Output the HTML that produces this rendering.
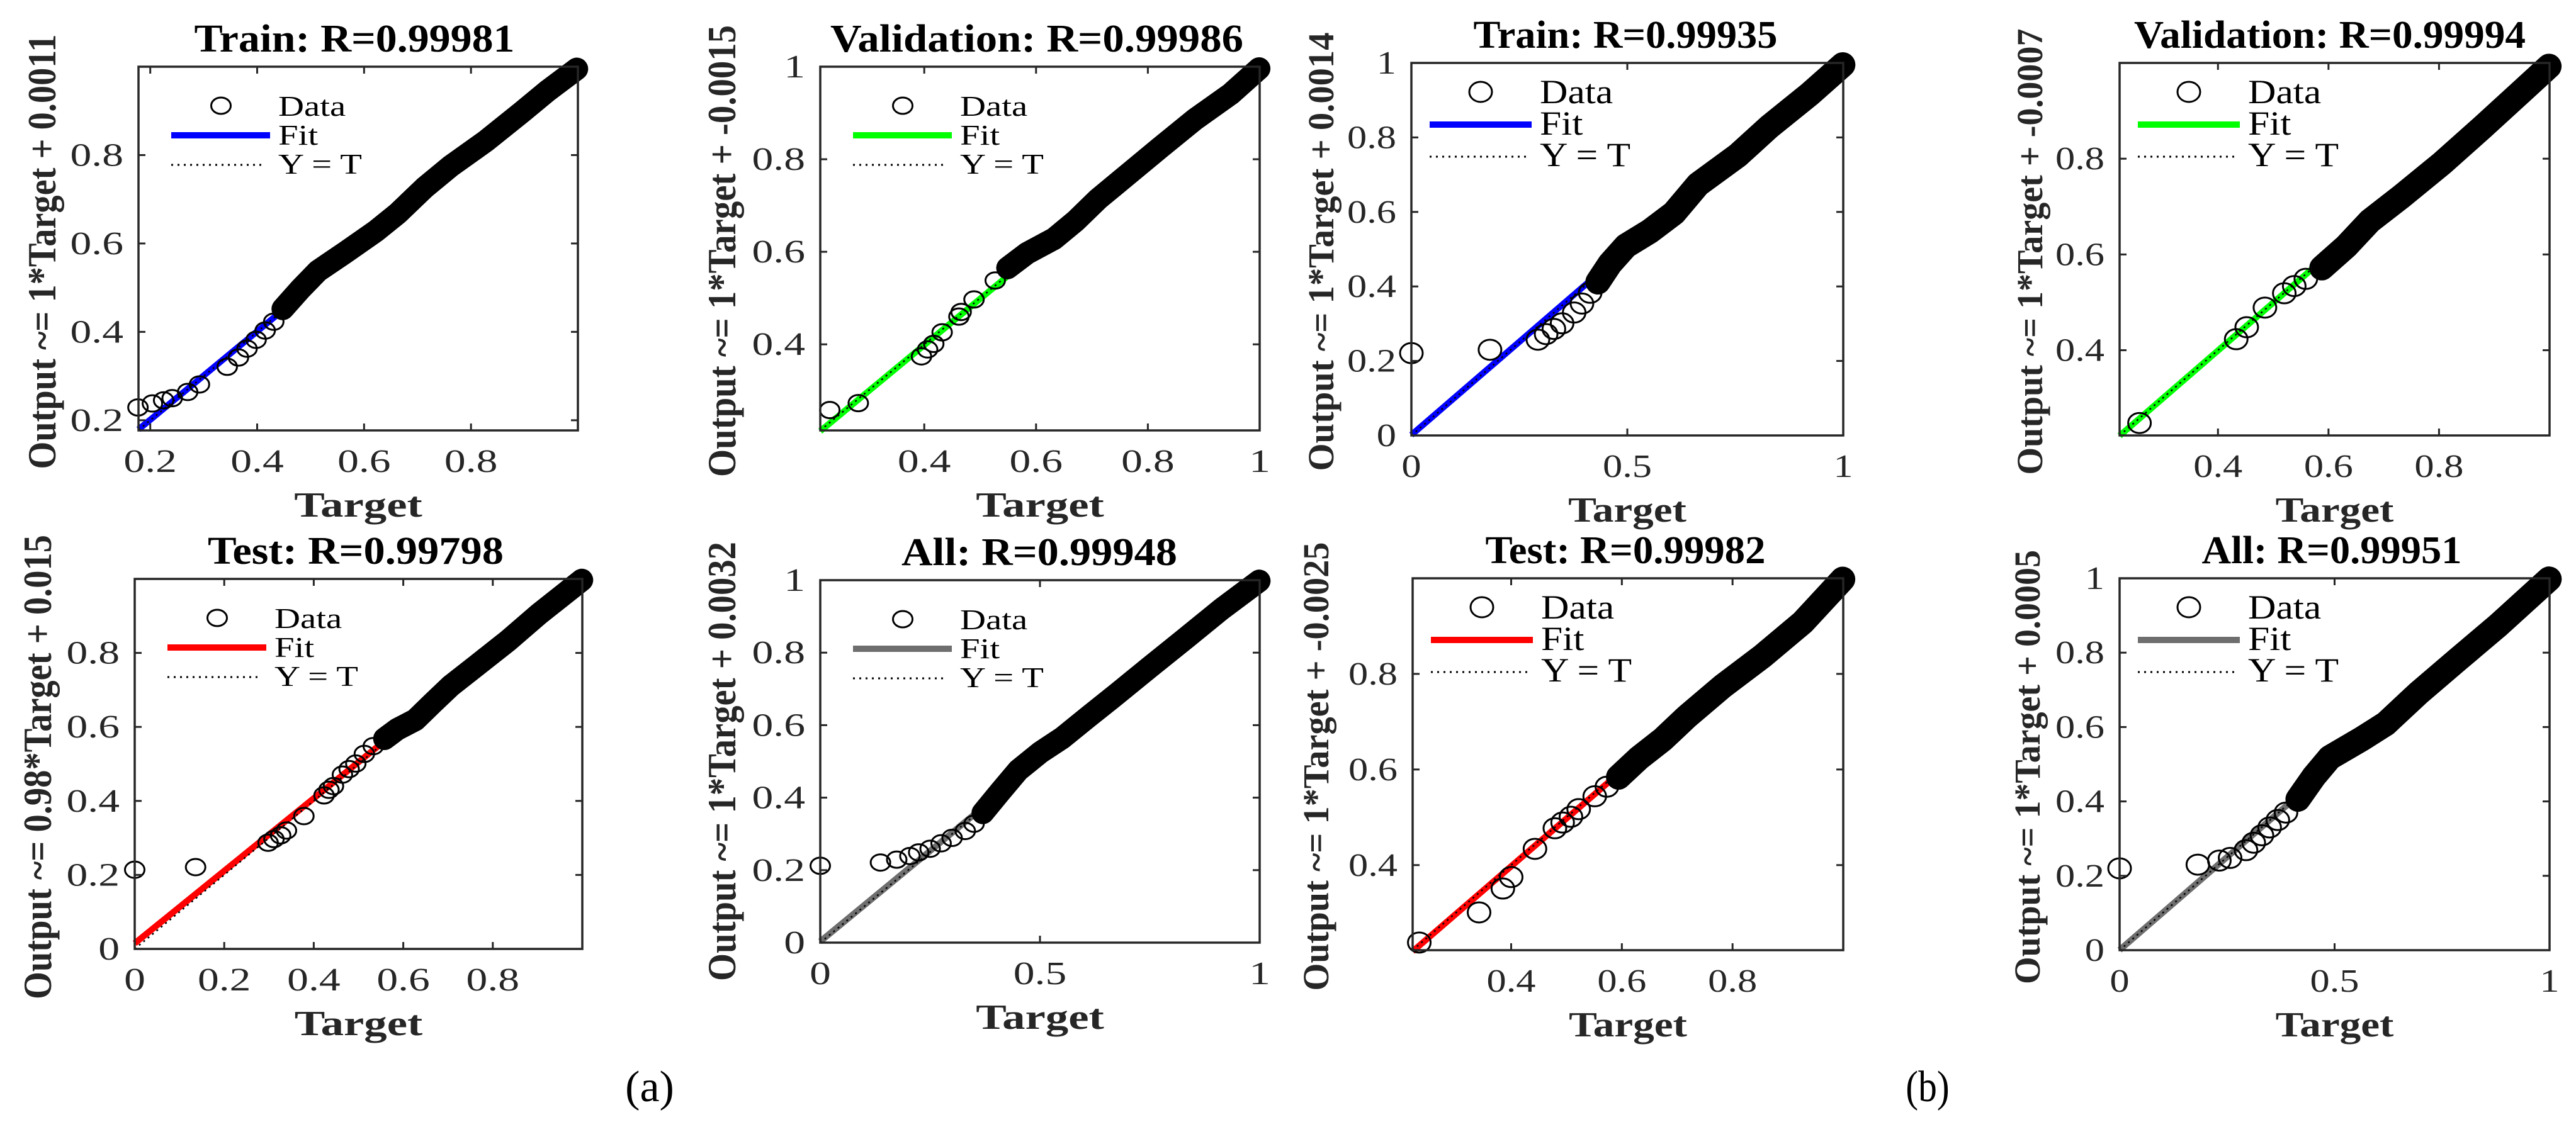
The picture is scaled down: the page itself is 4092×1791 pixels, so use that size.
<!DOCTYPE html>
<html><head><meta charset="utf-8"><style>
html,body{margin:0;padding:0;background:#fff;}
svg{display:block;}
text{font-family:"Liberation Serif","DejaVu Serif",serif;}
</style></head>
<body>
<svg id="fig" width="4092" height="1791" viewBox="0 0 4092 1791" xmlns="http://www.w3.org/2000/svg">
<rect width="4092" height="1791" fill="#fff"/>
<text x="1032" y="1750" font-size="70" text-anchor="middle" fill="#000">(a)</text>
<text x="3062" y="1750" font-size="70" text-anchor="middle" fill="#000" transform="translate(3062,0) scale(0.85,1) translate(-3062,0)">(b)</text>
</svg>
<script>
// ---- data ----
const p1SparseT=[0.177,0.204,0.225,0.241,0.270,0.292,0.344,0.365,0.381,0.398,0.415,0.431];
const p1SparseO=[0.229,0.238,0.245,0.250,0.264,0.281,0.321,0.342,0.362,0.382,0.403,0.423];
const p1BandT=[0.448,0.481,0.514,0.564,0.622,0.663,0.713,0.762,0.828,0.895,0.944,0.998];
const p1BandO=[0.452,0.497,0.538,0.579,0.628,0.668,0.726,0.775,0.832,0.897,0.946,0.995];

const p2SparseT=[0.231,0.282,0.395,0.406,0.417,0.432,0.462,0.466,0.489,0.527];
const p2SparseO=[0.258,0.273,0.374,0.389,0.401,0.426,0.460,0.470,0.497,0.538];
const p2BandT=[0.549,0.584,0.632,0.671,0.711,0.758,0.821,0.884,0.948,0.999];
const p2BandO=[0.565,0.597,0.628,0.667,0.714,0.761,0.824,0.886,0.941,0.996];

const p3SparseT=[0.0,0.182,0.293,0.312,0.330,0.349,0.377,0.395,0.414];
const p3SparseO=[0.221,0.230,0.257,0.272,0.286,0.301,0.330,0.354,0.383];
const p3BandT=[0.432,0.460,0.497,0.552,0.608,0.664,0.756,0.830,0.923,0.999];
const p3BandO=[0.412,0.461,0.509,0.548,0.597,0.674,0.752,0.830,0.917,0.995];

const p4SparseT=[0.258,0.433,0.452,0.485,0.520,0.538,0.559];
const p4SparseO=[0.248,0.423,0.448,0.489,0.519,0.534,0.549];
const p4BandT=[0.588,0.632,0.675,0.733,0.805,0.878,0.950,0.999];
const p4BandO=[0.572,0.617,0.670,0.722,0.790,0.865,0.941,0.993];

const p5SparseT=[0.0,0.136,0.298,0.311,0.326,0.339,0.378,0.423,0.434,0.444,0.464,0.479,0.494,0.513,0.533];
const p5SparseO=[0.214,0.221,0.287,0.297,0.307,0.320,0.359,0.415,0.430,0.440,0.471,0.486,0.501,0.527,0.548];
const p5BandT=[0.558,0.587,0.627,0.666,0.706,0.765,0.834,0.903,0.999];
const p5BandO=[0.568,0.594,0.619,0.665,0.711,0.767,0.833,0.905,0.997];

const p6SparseT=[0.0,0.137,0.174,0.204,0.224,0.250,0.275,0.300,0.330,0.350];
const p6SparseO=[0.212,0.221,0.229,0.239,0.249,0.259,0.274,0.289,0.308,0.328];
const p6BandT=[0.370,0.410,0.451,0.501,0.551,0.611,0.672,0.752,0.833,0.913,0.999];
const p6BandO=[0.358,0.417,0.476,0.525,0.565,0.624,0.683,0.762,0.841,0.920,0.998];

const p7SparseT=[0.234,0.342,0.385,0.400,0.443,0.479,0.493,0.508,0.522,0.551,0.573];
const p7SparseO=[0.238,0.301,0.351,0.375,0.434,0.477,0.489,0.501,0.517,0.544,0.564];
const p7BandT=[0.594,0.631,0.674,0.717,0.782,0.854,0.927,0.999];
const p7BandO=[0.584,0.624,0.663,0.710,0.774,0.837,0.908,0.998];

const p8SparseT=[0.0,0.182,0.232,0.257,0.294,0.312,0.331,0.349,0.368,0.387];
const p8SparseO=[0.220,0.230,0.241,0.248,0.269,0.289,0.309,0.330,0.350,0.370];
const p8BandT=[0.415,0.452,0.489,0.563,0.619,0.694,0.787,0.880,0.999];
const p8BandO=[0.406,0.467,0.518,0.568,0.609,0.690,0.782,0.873,0.998];

const p1Ticks=[0.2,0.4,0.6,0.8], p2Ticks=[0.4,0.6,0.8,1], p3XTicks=[0,0.5,1], p3YTicks=[0,0.2,0.4,0.6,0.8,1];
const p4Ticks=[0.4,0.6,0.8], p5Ticks=[0,0.2,0.4,0.6,0.8], p6XTicks=[0,0.5,1], p6YTicks=[0,0.2,0.4,0.6,0.8,1];
const p7Ticks=[0.4,0.6,0.8], p8XTicks=[0,0.5,1], p8YTicks=[0,0.2,0.4,0.6,0.8,1];
const fitSlopes=[1,1,1,1,0.98,1,1,1];
const fitIntercepts=[0.0011,-0.0015,0.0014,-0.0007,0.015,0.0032,-0.0025,0.0005];
const titles=["Train: R=0.99981","Validation: R=0.99986","Train: R=0.99935","Validation: R=0.99994","Test: R=0.99798","All: R=0.99948","Test: R=0.99982","All: R=0.99951"];
const yLabels=["Output ~= 1*Target + 0.0011","Output ~= 1*Target + -0.0015","Output ~= 1*Target + 0.0014","Output ~= 1*Target + -0.0007","Output ~= 0.98*Target + 0.015","Output ~= 1*Target + 0.0032","Output ~= 1*Target + -0.0025","Output ~= 1*Target + 0.0005"];

const NS="http://www.w3.org/2000/svg";
const svg=document.getElementById('fig');
function mk(tag,attrs,parent){const e=document.createElementNS(NS,tag);for(const k in attrs)e.setAttribute(k,attrs[k]);(parent||svg).appendChild(e);return e;}

const panels=[
 {id:'train-a',b:[220,918,106,684],xr:[0.178,1],yr:[0.177,1],xt:p1Ticks,yt:p1Ticks,sT:p1SparseT,sO:p1SparseO,bT:p1BandT,bO:p1BandO,col:'#0000ff',tc:563,tw:509,yl:[88,400,691],half:'a'},
 {id:'validation-a',b:[1303,2001,106,684],xr:[0.214,1],yr:[0.214,1],xt:p2Ticks,yt:p2Ticks,sT:p2SparseT,sO:p2SparseO,bT:p2BandT,bO:p2BandO,col:'#00ff00',tc:1647,tw:656,yl:[1168,399,718],half:'a'},
 {id:'train-b',b:[2242,2928,100,692],xr:[0,1],yr:[0,1],xt:p3XTicks,yt:p3YTicks,sT:p3SparseT,sO:p3SparseO,bT:p3BandT,bO:p3BandO,col:'#0000ff',tc:2582,tw:483,yl:[2118,400,697],half:'b'},
 {id:'validation-b',b:[3367,4050,100,692],xr:[0.222,1],yr:[0.222,1],xt:p4Ticks,yt:p4Ticks,sT:p4SparseT,sO:p4SparseO,bT:p4BandT,bO:p4BandO,col:'#00ff00',tc:3701,tw:622,yl:[3244,400,709],half:'b'},
 {id:'test-a',b:[214,925,920,1508],xr:[0,1],yr:[0,1],xt:p5Ticks,yt:p5Ticks,sT:p5SparseT,sO:p5SparseO,bT:p5BandT,bO:p5BandO,col:'#ff0000',tc:565,tw:470,yl:[81,1219,738],half:'a'},
 {id:'all-a',b:[1303,2001,922,1498],xr:[0,1],yr:[0,1],xt:p6XTicks,yt:p6YTicks,sT:p6SparseT,sO:p6SparseO,bT:p6BandT,bO:p6BandO,col:'#6e6e6e',tc:1651,tw:438,yl:[1168,1210,698],half:'a'},
 {id:'test-b',b:[2244,2928,919,1510],xr:[0.222,1],yr:[0.222,1],xt:p7Ticks,yt:p7Ticks,sT:p7SparseT,sO:p7SparseO,bT:p7BandT,bO:p7BandO,col:'#ff0000',tc:2582,tw:445,yl:[2110,1218,713],half:'b'},
 {id:'all-b',b:[3367,4050,919,1510],xr:[0,1],yr:[0,1],xt:p8XTicks,yt:p8YTicks,sT:p8SparseT,sO:p8SparseO,bT:p8BandT,bO:p8BandO,col:'#6e6e6e',tc:3704,tw:413,yl:[3240,1219,690],half:'b'}
];

function stext(parent,x,y,str,opts){
  const sx=opts.sx||1;
  const t=mk('text',{x:0,y:0,'font-size':opts.fs,'text-anchor':opts.anchor||'start',fill:opts.fill||'#262626','font-weight':opts.fw||'normal',transform:`translate(${x},${y}) scale(${sx},1)`},parent);
  t.textContent=str;return t;
}

panels.forEach((p,i)=>{
  const [L,R,T,B]=p.b;
  const X=v=>L+(v-p.xr[0])/(p.xr[1]-p.xr[0])*(R-L);
  const Y=v=>B-(v-p.yr[0])/(p.yr[1]-p.yr[0])*(B-T);
  const isA=p.half==='a';
  const rx=isA?15.5:18, ry=isA?13:16, bandW=isA?36:40, sx=isA?1.3:1.2, tfs=52;
  const g=mk('g',{});
  
  
  const x0=p.xr[0], x1=p.xr[1];
  const f=mk('line',{x1:X(x0),y1:Y(fitSlopes[i]*x0+fitIntercepts[i]),x2:X(x1),y2:Y(fitSlopes[i]*x1+fitIntercepts[i]),stroke:p.col,'stroke-width':10},g);
  
  
  const d0=Math.max(p.xr[0],p.yr[0]);
  const yt=mk('line',{x1:X(d0),y1:Y(d0),x2:X(1),y2:Y(1),stroke:'#000','stroke-width':2.5,'stroke-dasharray':'3 6'},g);
  
  
  const pts=p.bT.map((t,k)=>X(t)+','+Y(p.bO[k])).join(' ');
  const band=mk('polyline',{points:pts,fill:'none',stroke:'#000','stroke-width':bandW,'stroke-linejoin':'round','stroke-linecap':'round'},g);
  
  
  p.sT.forEach((t,k)=>{
    const c=mk('ellipse',{cx:X(t),cy:Y(p.sO[k]),rx:rx,ry:ry,fill:'none',stroke:'#000','stroke-width':3},g);
    
    
  });
  const bx=mk('rect',{x:L,y:T,width:R-L,height:B-T,fill:'none',stroke:'#262626','stroke-width':3.5},g);
  
  
  p.xt.forEach(v=>{
    const x=X(v);
    mk('line',{x1:x,y1:B,x2:x,y2:B-11,stroke:'#262626','stroke-width':3},g);
    mk('line',{x1:x,y1:T,x2:x,y2:T+11,stroke:'#262626','stroke-width':3},g);
    const tl=stext(g,x,B+66,String(v),{fs:tfs,anchor:'middle',sx:sx});
    
    
  });
  p.yt.forEach(v=>{
    const y=Y(v);
    mk('line',{x1:L,y1:y,x2:L+11,y2:y,stroke:'#262626','stroke-width':3},g);
    mk('line',{x1:R,y1:y,x2:R-11,y2:y,stroke:'#262626','stroke-width':3},g);
    const tl=stext(g,L-24,y+17,String(v),{fs:tfs,anchor:'end',sx:sx});
    
    
  });
  const xl=stext(g,(L+R)/2,B+137,'Target',{fs:56,anchor:'middle',sx:isA?1.3:1.2,fw:'bold'});
  
  
  const ti=mk('text',{x:p.tc,y:T-24,'font-size':62,'font-weight':'bold','text-anchor':'middle',fill:'#000',textLength:p.tw,lengthAdjust:'spacingAndGlyphs'},g);
  ti.textContent=titles[i];
  
  
  const yl=mk('text',{x:0,y:0,'font-size':isA?64:58,'font-weight':'bold','text-anchor':'middle',fill:'#262626',textLength:p.yl[2],lengthAdjust:'spacingAndGlyphs',transform:`translate(${p.yl[0]},${p.yl[1]}) rotate(-90)`},g);
  yl.textContent=yLabels[i];
  
  
  const lg=mk('g',{},g);
  
  
  const o=isA?{cx:131,cy:62,tx:222,b1:78,b2:124,b3:170,l1:52,l2:209,ly:109,dy:156,fs:46}:{cx:110,cy:46,tx:204,b1:64,b2:114,b3:164,l1:29,l2:191,ly:98,dy:149,fs:54};
  const le1=mk('ellipse',{cx:L+o.cx,cy:T+o.cy,rx:rx,ry:ry,fill:'none',stroke:'#000','stroke-width':3},lg);
  
  
  const lt1=stext(lg,L+o.tx,T+o.b1,'Data',{fs:o.fs,sx:sx*0.95,fill:'#000'});
  
  
  const le2=mk('line',{x1:L+o.l1,y1:T+o.ly,x2:L+o.l2,y2:T+o.ly,stroke:p.col,'stroke-width':10},lg);
  
  
  const lt2=stext(lg,L+o.tx,T+o.b2,'Fit',{fs:o.fs,sx:sx*0.95,fill:'#000'});
  
  
  const le3=mk('line',{x1:L+o.l1,y1:T+o.dy,x2:L+o.l2-8,y2:T+o.dy,stroke:'#000','stroke-width':3,'stroke-dasharray':'3 7'},lg);
  
  
  const lt3=stext(lg,L+o.tx,T+o.b3,'Y = T',{fs:o.fs,sx:sx*0.95,fill:'#000'});
  
  
});
</script>
</body></html>
